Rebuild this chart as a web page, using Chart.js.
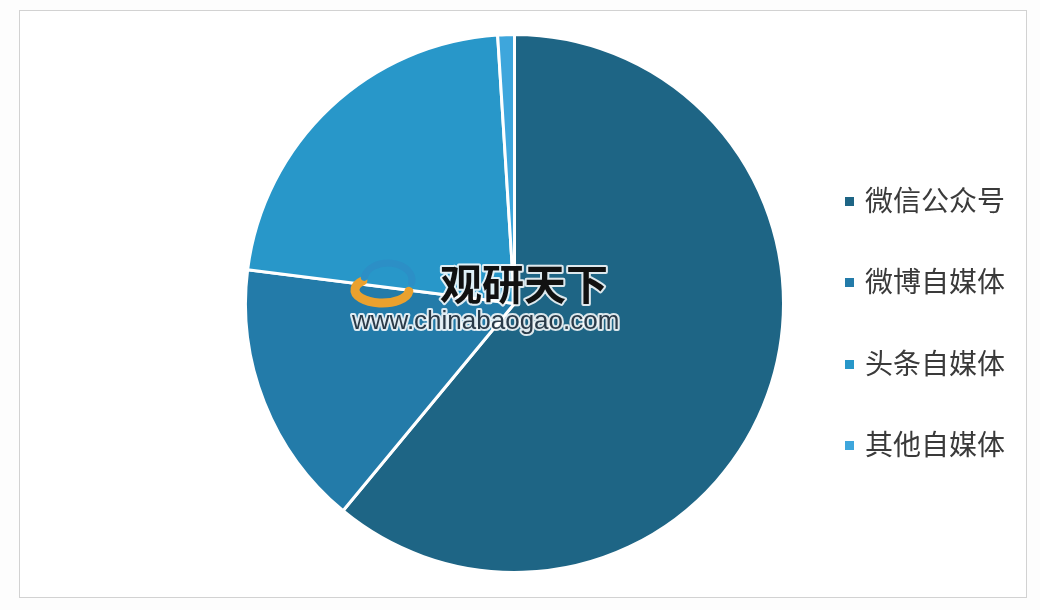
<!DOCTYPE html>
<html>
<head>
<meta charset="utf-8">
<script src="https://cdn.jsdelivr.net/npm/chart.js@4"></script>
<style>
  html, body { margin: 0; padding: 0; background: #fdfdfd; }
  #wrap { position: relative; width: 1040px; height: 610px; }
  #frame { position: absolute; left: 19px; top: 10px; width: 1006px; height: 586px; border: 1px solid #d2d2d2; background: #fff; }
  #chart { position: absolute; left: 0; top: 0; width: 1040px; height: 610px; }
  #legend { position: absolute; left: 845px; top: 0; margin: 0; padding: 0; list-style: none; }
  #legend li { position: absolute; left: 0; white-space: nowrap; height: 30px; line-height: 30px;
    font-family: "Noto Sans CJK SC", sans-serif; font-size: 28px; color: #3a3a3a; }
  #legend span.box { display: inline-block; width: 9px; height: 9px; margin-right: 11px; vertical-align: middle; position: relative; top: -2px; }
</style>
</head>
<body>
<div id="wrap">
  <div id="frame"></div>
  <div id="chart"><canvas id="pie"></canvas></div>
  <ul id="legend"></ul>
</div>
<script>
const categories = ["微信公众号", "微博自媒体", "头条自媒体", "其他自媒体"];
const shares = [61, 16, 22, 1];
const colors = ["#1e6585", "#237ba9", "#2897c9", "#3ea6dc"];

const watermark = {
  id: "watermark",
  afterDraw(chart) {
    const ctx = chart.ctx;
    ctx.save();
    ctx.lineJoin = "round";
    ctx.lineCap = "round";
    ctx.textBaseline = "alphabetic";
    ctx.textAlign = "left";
    // logo swirl (rough)
    ctx.lineWidth = 9;
    ctx.strokeStyle = "#eaa12e";
    ctx.beginPath();
    ctx.ellipse(382, 290, 27, 13, 0, 0.1, Math.PI * 1.25);
    ctx.stroke();
    ctx.strokeStyle = "#2c8fc6";
    ctx.lineWidth = 7;
    ctx.beginPath();
    ctx.ellipse(388, 280, 24, 17, 0, Math.PI * 1.05, Math.PI * 2.05);
    ctx.stroke();
    ctx.font = "bold 42px 'Noto Sans CJK SC'";
    ctx.lineWidth = 4;
    ctx.strokeStyle = "rgba(255,255,255,0.85)";
    ctx.strokeText("观研天下", 440, 300);
    ctx.fillStyle = "#111";
    ctx.fillText("观研天下", 440, 300);
    ctx.font = "26px 'Liberation Sans'";
    ctx.lineWidth = 4;
    ctx.strokeText("www.chinabaogao.com", 352, 329);
    ctx.fillStyle = "#2a3a48";
    ctx.fillText("www.chinabaogao.com", 352, 329);
    ctx.restore();
  }
};

new Chart(document.getElementById("pie"), {
  type: "pie",
  data: {
    labels: categories,
    datasets: [{
      data: shares,
      backgroundColor: colors,
      borderColor: "#ffffff",
      borderWidth: 3
    }]
  },
  options: {
    responsive: true,
    maintainAspectRatio: false,
    animation: false,
    layout: { padding: { left: 244, right: 255, top: 33, bottom: 36 } },
    plugins: {
      legend: { display: false },
      tooltip: { enabled: false }
    }
  },
  plugins: [watermark]
});

// legend built from the same arrays
const legendTops = [184, 265, 347, 428];
const ul = document.getElementById("legend");
categories.forEach((name, i) => {
  const li = document.createElement("li");
  li.style.top = legendTops[i] + "px";
  li.innerHTML = '<span class="box" style="background:' + colors[i] + '"></span>' + name;
  ul.appendChild(li);
});
</script>
</body>
</html>
